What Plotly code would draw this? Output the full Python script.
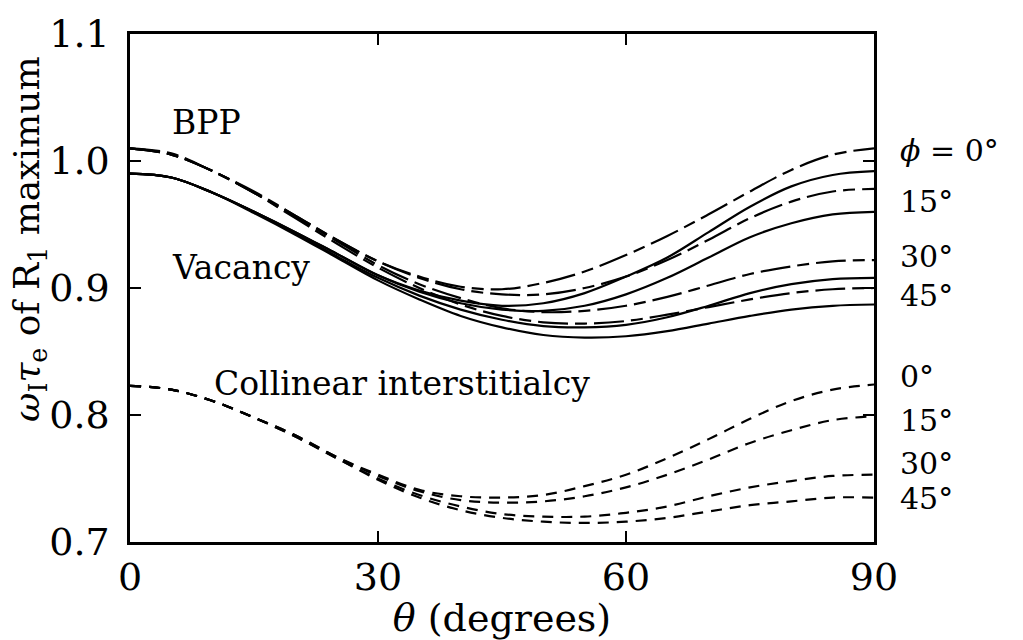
import plotly.graph_objects as go

theta = [0, 5, 10, 15, 20, 25, 30, 35, 40, 45, 50, 55, 60, 65, 70, 75, 80, 85, 90]

# BPP model (long-short dash)
bpp_phi0 = [1.010, 1.006, 0.992, 0.976, 0.957, 0.938, 0.921, 0.909, 0.901, 0.899, 0.904, 0.913, 0.926, 0.941, 0.958, 0.976, 0.993, 1.005, 1.010]
bpp_phi15 = [1.010, 1.005, 0.992, 0.975, 0.957, 0.938, 0.921, 0.908, 0.899, 0.895, 0.895, 0.900, 0.909, 0.922, 0.938, 0.955, 0.968, 0.976, 0.978]
bpp_phi30 = [1.010, 1.005, 0.992, 0.975, 0.956, 0.937, 0.918, 0.903, 0.892, 0.884, 0.881, 0.882, 0.886, 0.893, 0.902, 0.911, 0.917, 0.921, 0.922]
bpp_phi45 = [1.010, 1.005, 0.992, 0.975, 0.955, 0.935, 0.916, 0.900, 0.887, 0.878, 0.873, 0.872, 0.874, 0.879, 0.885, 0.891, 0.896, 0.899, 0.900]

# Vacancy model (solid)
vac_phi0 = [0.990, 0.987, 0.975, 0.960, 0.944, 0.927, 0.910, 0.898, 0.890, 0.886, 0.888, 0.896, 0.909, 0.924, 0.944, 0.964, 0.980, 0.989, 0.992]
vac_phi15 = [0.990, 0.987, 0.975, 0.960, 0.944, 0.927, 0.910, 0.897, 0.888, 0.883, 0.882, 0.886, 0.895, 0.908, 0.924, 0.940, 0.951, 0.958, 0.960]
vac_phi30 = [0.990, 0.987, 0.975, 0.960, 0.943, 0.925, 0.908, 0.894, 0.883, 0.875, 0.870, 0.869, 0.871, 0.877, 0.886, 0.896, 0.903, 0.907, 0.908]
vac_phi45 = [0.990, 0.987, 0.975, 0.959, 0.942, 0.924, 0.906, 0.891, 0.878, 0.869, 0.863, 0.861, 0.862, 0.866, 0.872, 0.878, 0.883, 0.886, 0.887]

# Collinear interstitialcy model (short dash)
col_phi0 = [0.823, 0.820, 0.811, 0.798, 0.784, 0.767, 0.753, 0.741, 0.736, 0.735, 0.737, 0.744, 0.753, 0.766, 0.781, 0.797, 0.811, 0.820, 0.824]
col_phi15 = [0.823, 0.820, 0.811, 0.798, 0.784, 0.767, 0.752, 0.740, 0.733, 0.731, 0.732, 0.736, 0.743, 0.753, 0.765, 0.778, 0.788, 0.796, 0.799]
col_phi30 = [0.823, 0.820, 0.811, 0.798, 0.783, 0.766, 0.750, 0.737, 0.728, 0.722, 0.720, 0.720, 0.723, 0.728, 0.736, 0.743, 0.748, 0.752, 0.753]
col_phi45 = [0.823, 0.820, 0.811, 0.798, 0.783, 0.766, 0.749, 0.735, 0.725, 0.719, 0.716, 0.715, 0.716, 0.719, 0.724, 0.729, 0.732, 0.735, 0.735]

x_ticks = [0, 30, 60, 90]
y_ticks = [0.7, 0.8, 0.9, 1.0, 1.1]
y_ticklabels = ["0.7", "0.8", "0.9", "1.0", "1.1"]

phi_labels = ["<i>ϕ</i> = 0°", "15°", "30°", "45°", "0°", "15°", "30°", "45°"]
phi_label_y = [1.008, 0.968, 0.925, 0.894, 0.830, 0.796, 0.762, 0.734]

model_labels = ["BPP", "Vacancy", "Collinear interstitialcy"]
model_label_x = [4.8, 4.8, 9.9]
model_label_y = [1.030, 0.916, 0.825]

FONT = "DejaVu Serif"
AXFONT = 38
LBLFONT = 33
PHIFONT = 30
LW = 2.2
BPP_DASH = "30px,7px,12px,7px"
COL_DASH = "11px,8px"

# plot area in pixels
W, H = 1023, 640
ML, MR, MT, MB = 130, 149, 22, 90
PW, PH = W - ML - MR, H - MT - MB

fig = go.Figure()

groups = [
    ([bpp_phi0, bpp_phi15, bpp_phi30, bpp_phi45], BPP_DASH),
    ([vac_phi0, vac_phi15, vac_phi30, vac_phi45], "solid"),
    ([col_phi0, col_phi15, col_phi30, col_phi45], COL_DASH),
]
for series_list, dash in groups:
    for ys in series_list:
        fig.add_trace(go.Scatter(
            x=theta, y=ys, mode="lines",
            line=dict(color="black", width=LW, dash=dash, shape="spline", smoothing=1.0),
            showlegend=False, hoverinfo="skip",
        ))

for txt, xv, yv in zip(model_labels, model_label_x, model_label_y):
    fig.add_annotation(x=xv, y=yv, xref="x", yref="y", text=txt, showarrow=False,
                       xanchor="left", yanchor="middle",
                       font=dict(family=FONT, size=LBLFONT, color="black"))

for txt, yv in zip(phi_labels, phi_label_y):
    fig.add_annotation(x=(898 - ML) / PW, y=yv, xref="paper", yref="y", text=txt,
                       showarrow=False, xanchor="left", yanchor="middle",
                       font=dict(family=FONT, size=PHIFONT, color="black"))

# Y-axis title (placed above center like the reference)
fig.add_annotation(x=(30 - ML) / PW, y=1 - (235 - MT) / PH, xref="paper", yref="paper",
                   text="<i>ω</i><sub>I</sub><i>τ</i><sub>e</sub> of R<sub>1</sub> maximum",
                   textangle=-90, showarrow=False, xanchor="center", yanchor="middle",
                   font=dict(family=FONT, size=36, color="black"))

fig.update_layout(
    width=W, height=H,
    margin=dict(l=ML, r=MR, t=MT, b=MB),
    paper_bgcolor="white", plot_bgcolor="white",
    font=dict(family=FONT, size=AXFONT, color="black"),
)

fig.update_xaxes(
    range=[0, 90], tickvals=x_ticks, ticktext=[str(t) for t in x_ticks],
    ticks="inside", ticklen=11, tickwidth=2, tickcolor="black",
    showline=True, linecolor="black", linewidth=2.5, mirror="ticks",
    showgrid=False, zeroline=False,
    tickfont=dict(family=FONT, size=AXFONT, color="black"),
    title=dict(text="<i>θ</i> (degrees)", font=dict(family=FONT, size=AXFONT, color="black"), standoff=2),
)
fig.update_yaxes(
    range=[0.7, 1.1], tickvals=y_ticks, ticktext=y_ticklabels,
    ticks="inside", ticklen=11, tickwidth=2, tickcolor="black",
    showline=True, linecolor="black", linewidth=2.5, mirror="ticks",
    showgrid=False, zeroline=False, ticklabelstandoff=10,
    tickfont=dict(family=FONT, size=AXFONT, color="black"),
)

fig.write_html("out.html")
